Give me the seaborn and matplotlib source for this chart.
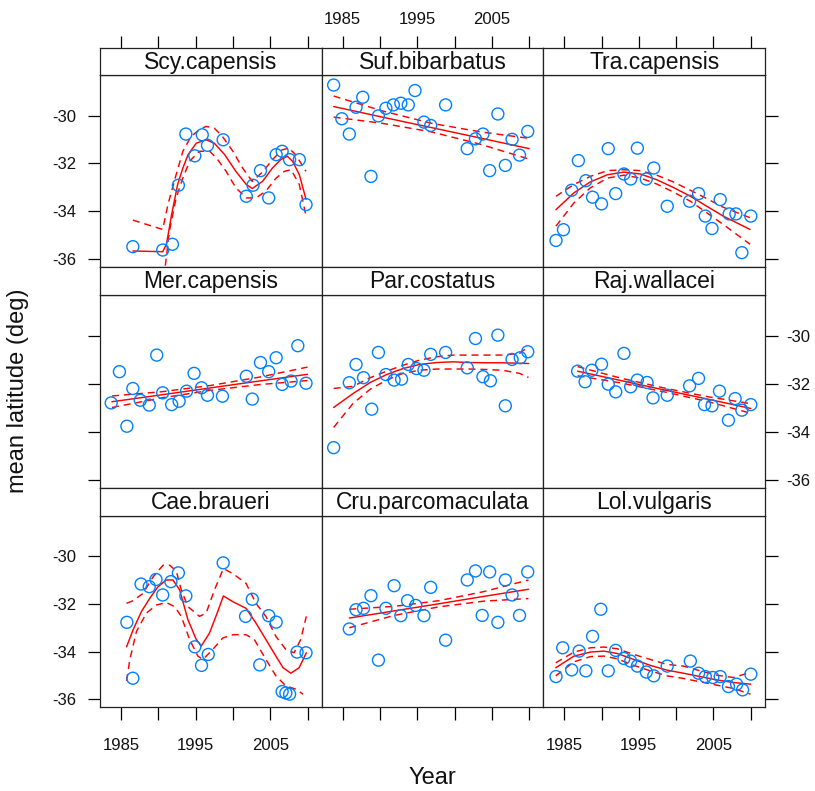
import matplotlib
matplotlib.use("Agg")
import matplotlib.pyplot as plt
import seaborn as sns

# ---------------- data ----------------
species = ["Scy.capensis", "Suf.bibarbatus", "Tra.capensis",
           "Mer.capensis", "Par.costatus", "Raj.wallacei",
           "Cae.braueri", "Cru.parcomaculata", "Lol.vulgaris"]

x_ticks = [1985, 1990, 1995, 2000, 2005, 2010]
x_tick_labels = ["1985", "", "1995", "", "2005", ""]
y_ticks = [-36, -34, -32, -30]
y_tick_labels = ["-36", "-34", "-32", "-30"]

# Scy.capensis
scy_year = [1986.6, 1990.6, 1991.9, 1992.7, 1993.7, 1994.9, 1995.9, 1996.6, 1998.7,
            2001.8, 2002.7, 2003.7, 2004.8, 2005.8, 2006.6, 2007.6, 2008.9, 2009.8]
scy_lat = [-35.48, -35.62, -35.38, -32.91, -30.77, -31.68, -30.80, -31.24, -31.01,
           -33.37, -32.91, -32.30, -33.44, -31.63, -31.49, -31.84, -31.84, -33.72]
scy_fit_x = [1986.6, 1990.6, 1991.1, 1991.8, 1992.6, 1993.3, 1994.0, 1995.1, 1996.4, 1997.5, 1998.9,
             2000.4, 2001.8, 2002.6, 2004.0, 2005.3, 2006.4, 2007.3, 2008.0, 2008.9, 2009.8]
scy_fit = [-35.66, -35.69, -35.38, -34.13, -32.88, -32.19, -31.63, -31.15, -31.01, -31.15, -31.63,
           -32.33, -32.88, -33.05, -32.74, -32.19, -31.84, -31.70, -31.91, -32.47, -33.50]
scy_hi_x = [1986.6, 1990.6, 1991.3, 1992.4, 1993.3, 1994.4, 1995.5, 1996.4, 1997.5, 1998.6,
            2000.0, 2001.3, 2002.6, 2004.0, 2005.3, 2006.6, 2007.5, 2008.4, 2009.8]
scy_hi = [-34.37, -34.76, -33.72, -32.47, -31.49, -30.87, -30.59, -30.45, -30.52, -30.87,
          -31.49, -32.19, -32.75, -32.35, -31.84, -31.43, -31.36, -31.63, -32.33]
scy_lo_x = [1986.6, 1990.6, 1991.0, 1991.5, 1992.4, 1993.3, 1994.2, 1995.5, 1996.9, 1997.8,
            1999.1, 2000.4, 2001.8, 2003.1, 2004.4, 2005.8, 2006.9, 2007.8, 2008.9, 2009.8]
scy_lo = [-37.2, -37.0, -36.15, -34.83, -33.44, -32.61, -31.91, -31.49, -31.49, -31.77,
          -32.33, -33.02, -33.44, -33.44, -33.16, -32.61, -32.33, -32.26, -32.88, -34.20]

# Suf.bibarbatus
suf_year = [1983.8, 1984.9, 1985.9, 1986.8, 1987.7, 1988.8, 1989.8, 1990.8, 1991.8, 1992.8, 1993.8, 1994.7,
            1995.9, 1996.8, 1998.8, 2001.7, 2002.8, 2003.8, 2004.7, 2005.8, 2006.8, 2007.7, 2008.7, 2009.8]
suf_lat = [-28.72, -30.13, -30.77, -29.65, -29.23, -32.54, -30.01, -29.69, -29.55, -29.48, -29.55, -28.95,
           -30.27, -30.41, -29.55, -31.38, -30.97, -30.77, -32.30, -29.93, -32.08, -30.99, -31.65, -30.66]
suf_line_x = [1983.8, 1990.3, 1996.9, 2003.5, 2010.0]
suf_fit = [-29.62, -30.06, -30.50, -30.94, -31.38]
suf_hi = [-29.18, -29.80, -30.32, -30.68, -30.95]
suf_lo = [-30.06, -30.32, -30.68, -31.20, -31.82]

# Tra.capensis
tra_year = [1983.9, 1984.9, 1986.0, 1986.9, 1987.9, 1988.8, 1990.0, 1990.9, 1991.9, 1993.0, 1993.9, 1994.8,
            1996.0, 1997.0, 1998.8, 2001.8, 2003.0, 2003.9, 2004.8, 2005.9, 2007.1, 2008.0, 2008.8, 2010.0]
tra_lat = [-35.22, -34.77, -33.12, -31.88, -32.72, -33.41, -33.69, -31.38, -33.26, -32.44, -32.65, -31.36,
           -32.65, -32.19, -33.79, -33.58, -33.26, -34.20, -34.72, -33.51, -34.11, -34.11, -35.73, -34.20]
tra_line_x = [1983.9, 1986.3, 1988.5, 1990.8, 1993.0, 1995.2, 1997.4, 1999.6, 2001.9, 2004.1, 2006.3, 2009.9]
tra_fit = [-33.93, -33.23, -32.77, -32.47, -32.36, -32.44, -32.68, -33.00, -33.37, -33.79, -34.20, -34.76]
tra_hi = [-33.37, -32.88, -32.54, -32.30, -32.26, -32.30, -32.49, -32.77, -33.12, -33.47, -33.83, -34.27]
tra_lo = [-34.62, -33.65, -33.02, -32.61, -32.49, -32.61, -32.86, -33.19, -33.58, -34.06, -34.55, -35.38]

# Mer.capensis
mer_year = [1983.7, 1984.8, 1985.8, 1986.6, 1987.6, 1988.8, 1989.8, 1990.6, 1991.8, 1992.8, 1993.8, 1994.8,
            1995.8, 1996.6, 1998.6, 2001.8, 2002.6, 2003.7, 2004.8, 2005.8, 2006.6, 2007.8, 2008.7, 2009.8]
mer_lat = [-32.79, -31.49, -33.76, -32.19, -32.68, -32.88, -30.80, -32.37, -32.86, -32.72, -32.30, -31.56,
           -32.16, -32.47, -32.51, -31.68, -32.63, -31.11, -31.49, -30.91, -32.02, -31.88, -30.41, -31.97]
mer_line_x = [1983.8, 1990.3, 1996.9, 2003.5, 2010.0]
mer_fit = [-32.74, -32.46, -32.17, -31.88, -31.60]
mer_hi = [-32.50, -32.33, -32.07, -31.72, -31.30]
mer_lo = [-32.98, -32.59, -32.27, -32.03, -31.86]

# Par.costatus
par_year = [1983.8, 1985.9, 1986.8, 1987.8, 1988.9, 1989.8, 1990.8, 1991.9, 1992.9, 1993.8, 1994.9, 1995.9,
            1996.8, 1998.8, 2001.7, 2002.8, 2003.8, 2004.8, 2005.8, 2006.8, 2007.7, 2008.8, 2009.8]
par_lat = [-34.65, -31.95, -31.19, -31.74, -33.05, -30.69, -31.61, -31.84, -31.80, -31.19, -31.36, -31.43,
           -30.77, -30.69, -31.33, -30.11, -31.70, -31.87, -29.97, -32.91, -30.98, -30.91, -30.66]
par_fit_x = [1983.8, 1986.4, 1988.7, 1990.9, 1993.1, 1995.3, 1997.6, 1999.8, 2002.0, 2004.2, 2006.4, 2009.9]
par_fit = [-32.98, -32.40, -31.94, -31.61, -31.36, -31.19, -31.11, -31.08, -31.11, -31.12, -31.12, -31.15]
par_band_x = [1983.8, 1986.4, 1988.7, 1990.9, 1993.1, 1995.3, 1997.6, 1999.8, 2002.0, 2004.2, 2006.4,
              2008.7, 2009.9]
par_hi = [-32.19, -32.10, -31.74, -31.47, -31.22, -31.01, -30.87, -30.80, -30.80, -30.80, -30.80, -30.73, -30.45]
par_lo = [-33.81, -32.81, -32.22, -31.84, -31.56, -31.43, -31.38, -31.38, -31.38, -31.40, -31.43, -31.56, -31.73]

# Raj.wallacei
raj_year = [1986.8, 1987.8, 1988.7, 1990.0, 1990.9, 1991.9, 1993.0, 1993.9, 1994.8, 1996.1, 1996.9,
            1998.8, 2001.8, 2003.0, 2003.8, 2004.8, 2005.8, 2007.0, 2007.9, 2008.8, 2010.0]
raj_lat = [-31.47, -31.91, -31.43, -31.18, -32.01, -32.33, -30.73, -32.12, -31.84, -31.94, -32.58,
           -32.47, -32.08, -31.77, -32.86, -32.91, -32.30, -33.51, -32.61, -33.09, -32.86]
raj_line_x = [1986.8, 1992.6, 1998.4, 2004.2, 2010.0]
raj_fit = [-31.47, -31.86, -32.25, -32.63, -33.02]
raj_hi = [-31.28, -31.76, -32.17, -32.53, -32.82]
raj_lo = [-31.66, -31.96, -32.33, -32.73, -33.22]

# Cae.braueri
cae_year = [1985.8, 1986.6, 1987.7, 1988.8, 1989.7, 1990.6, 1991.7, 1992.7, 1993.7, 1994.9, 1995.8,
            1996.7, 1998.7, 2001.7, 2002.6, 2003.6, 2004.8, 2005.8, 2006.6, 2007.1, 2007.6, 2008.6, 2009.8]
cae_lat = [-32.77, -35.12, -31.16, -31.27, -30.97, -31.62, -31.06, -30.69, -31.66, -33.80, -34.58,
           -34.12, -30.27, -32.52, -31.80, -34.56, -32.49, -32.76, -35.68, -35.74, -35.79, -34.02, -34.05]
cae_fit_x = [1985.76, 1986.64, 1987.76, 1988.87, 1989.98, 1991.09, 1991.98, 1992.87, 1993.98, 1995.09,
             1995.76, 1996.87, 1997.98, 1998.73, 1999.98, 2001.76, 2003.09, 2004.42, 2005.76, 2006.73,
             2007.76, 2008.87, 2009.84]
cae_fit = [-33.80, -33.08, -32.31, -31.76, -31.27, -30.99, -30.99, -31.41, -32.66, -33.49,
           -33.77, -33.22, -32.31, -31.66, -31.90, -32.18, -32.80, -33.49, -34.19, -34.68,
           -34.91, -34.68, -34.05]
cae_hi_x = [1985.76, 1986.64, 1987.98, 1989.31, 1990.64, 1991.53, 1992.42, 1993.09, 1993.98, 1995.53,
            1996.42, 1997.53, 1998.73, 1999.98, 2001.76, 2003.09, 2004.42, 2005.76, 2007.09, 2008.2,
            2009.09, 2009.84]
cae_hi = [-31.97, -31.86, -31.55, -30.86, -30.37, -30.37, -30.61, -31.41, -32.11, -32.52,
          -32.38, -31.41, -30.51, -30.72, -31.13, -31.97, -32.52, -33.36, -33.91, -34.05,
          -33.49, -32.52]
cae_lo_x = [1985.76, 1986.2, 1987.09, 1988.42, 1989.76, 1991.09, 1992.2, 1993.09, 1994.2, 1995.31,
            1995.98, 1997.31, 1998.64, 1999.98, 2001.76, 2002.87, 2004.42, 2005.76, 2007.09, 2008.42,
            2009.4]
cae_lo = [-35.23, -34.33, -33.15, -32.38, -32.04, -31.94, -32.11, -32.52, -33.49, -34.19,
          -34.33, -33.91, -33.43, -33.29, -33.29, -33.49, -34.33, -35.02, -35.44, -35.58, -35.79]

# Cru.parcomaculata
cru_year = [1985.9, 1986.8, 1987.8, 1988.8, 1989.8, 1990.8, 1991.9, 1992.8, 1993.7, 1994.8, 1995.9,
            1996.8, 1998.8, 2001.7, 2002.8, 2003.7, 2004.7, 2005.8, 2006.8, 2007.7, 2008.7, 2009.8]
cru_lat = [-33.05, -32.24, -32.18, -31.65, -34.36, -32.18, -31.23, -32.49, -31.86, -32.06, -32.49,
           -31.30, -33.52, -30.99, -30.61, -32.48, -30.65, -32.77, -30.99, -31.62, -32.48, -30.65]
cru_line_x = [1985.9, 1991.9, 1997.9, 2003.9, 2009.9]
cru_fit = [-32.59, -32.29, -31.99, -31.68, -31.38]
cru_hi = [-32.22, -32.10, -31.86, -31.48, -30.99]
cru_lo = [-33.00, -32.48, -32.12, -31.88, -31.77]

# Lol.vulgaris
lol_year = [1983.9, 1984.8, 1986.0, 1987.0, 1987.9, 1988.8, 1989.9, 1990.9, 1991.9, 1993.0, 1993.9, 1994.8,
            1996.0, 1997.0, 1998.8, 2001.9, 2003.0, 2003.9, 2004.9, 2005.9, 2007.0, 2008.1, 2008.9, 2010.0]
lol_lat = [-35.05, -33.84, -34.77, -33.98, -34.81, -33.36, -32.22, -34.81, -33.95, -34.29, -34.40, -34.61,
           -34.86, -35.02, -34.61, -34.40, -34.91, -35.05, -35.09, -35.05, -35.47, -35.37, -35.61, -34.95]
lol_line_x = [1983.87, 1986.31, 1988.53, 1990.31, 1992.09, 1994.31, 1996.53, 1998.76, 2000.98, 2003.2,
              2005.42, 2007.64, 2009.96]
lol_fit = [-34.68, -34.19, -34.02, -33.98, -34.08, -34.33, -34.58, -34.78, -34.91, -35.05, -35.19, -35.30, -35.37]
lol_hi = [-34.47, -34.02, -33.84, -33.81, -33.88, -34.12, -34.33, -34.54, -34.61, -34.81, -34.99, -35.09, -34.88]
lol_lo = [-35.02, -34.43, -34.21, -34.19, -34.30, -34.58, -34.81, -35.02, -35.13, -35.27, -35.41, -35.55, -35.79]

# ---------------- assemble panels ----------------
points = [(scy_year, scy_lat), (suf_year, suf_lat), (tra_year, tra_lat),
          (mer_year, mer_lat), (par_year, par_lat), (raj_year, raj_lat),
          (cae_year, cae_lat), (cru_year, cru_lat), (lol_year, lol_lat)]
curves = [
    [(scy_fit_x, scy_fit, True), (scy_hi_x, scy_hi, False), (scy_lo_x, scy_lo, False)],
    [(suf_line_x, suf_fit, True), (suf_line_x, suf_hi, False), (suf_line_x, suf_lo, False)],
    [(tra_line_x, tra_fit, True), (tra_line_x, tra_hi, False), (tra_line_x, tra_lo, False)],
    [(mer_line_x, mer_fit, True), (mer_line_x, mer_hi, False), (mer_line_x, mer_lo, False)],
    [(par_fit_x, par_fit, True), (par_band_x, par_hi, False), (par_band_x, par_lo, False)],
    [(raj_line_x, raj_fit, True), (raj_line_x, raj_hi, False), (raj_line_x, raj_lo, False)],
    [(cae_fit_x, cae_fit, True), (cae_hi_x, cae_hi, False), (cae_lo_x, cae_lo, False)],
    [(cru_line_x, cru_fit, True), (cru_line_x, cru_hi, False), (cru_line_x, cru_lo, False)],
    [(lol_line_x, lol_fit, True), (lol_line_x, lol_hi, False), (lol_line_x, lol_lo, False)],
]

# ---------------- style ----------------
sns.set_theme(style="white")
plt.rcParams["font.family"] = ["Liberation Sans", "DejaVu Sans"]

W, H = 815, 791
fig = plt.figure(figsize=(W / 100, H / 100), dpi=100)
fig.patch.set_facecolor("white")

col_left = [100, 321.7, 543.3]
col_w = 221.7
strip_top = [48, 267, 488]
panel_top = [75, 295, 516]
panel_bot = [267, 488, 707]
XLIM = (1982.2, 2011.9)
YLIM = (-36.33, -28.3)
PT_COL = "#0080ff"
LINE_COL = "red"
FRAME = "#222222"


def rect(x0, y0, x1, y1):
    return [x0 / W, 1 - y1 / H, (x1 - x0) / W, (y1 - y0) / H]


for i, name in enumerate(species):
    r, c = divmod(i, 3)
    x0 = col_left[c]
    ax = fig.add_axes(rect(x0, panel_top[r], x0 + col_w, panel_bot[r]))
    sax = fig.add_axes(rect(x0, strip_top[r], x0 + col_w, panel_top[r]))

    # lines
    for lx, ly, solid in curves[i]:
        sns.lineplot(x=lx, y=ly, ax=ax, color=LINE_COL, linewidth=1.05,
                     estimator=None, sort=False,
                     linestyle="-" if solid else (0, (4.8, 3.4)))
    # points
    yr, lat = points[i]
    sns.scatterplot(x=yr, y=lat, ax=ax, marker="o", s=74, color=PT_COL,
                    facecolors="none", edgecolor=PT_COL, linewidth=1.0, zorder=3)

    ax.set_xlim(*XLIM)
    ax.set_ylim(*YLIM)
    ax.set_xlabel("")
    ax.set_ylabel("")
    ax.set_facecolor("white")
    for sp in ax.spines.values():
        sp.set_color(FRAME)
        sp.set_linewidth(0.9)
        sp.set_visible(True)
    ax.set_xticks(x_ticks)
    ax.set_xticklabels(x_tick_labels)
    ax.set_yticks(y_ticks)
    ax.set_yticklabels(y_tick_labels)
    ax.tick_params(axis="both", direction="out", length=9, width=0.9, colors="black",
                   labelsize=12, labelcolor="#111111")
    ax.tick_params(axis="x", top=False, bottom=(r == 2), labeltop=False,
                   labelbottom=(r == 2 and c != 1), pad=13)
    ax.tick_params(axis="y", left=(c == 0), right=(c == 2),
                   labelleft=(c == 0 and r != 1), labelright=(c == 2 and r == 1))
    ax.tick_params(axis="y", which="major", pad=8)
    if c == 2 and r == 1:
        ax.tick_params(axis="y", pad=6)

    # strip
    sax.set_xlim(*XLIM)
    sax.set_ylim(0, 1)
    sax.set_facecolor("white")
    for sp in sax.spines.values():
        sp.set_color(FRAME)
        sp.set_linewidth(0.9)
        sp.set_visible(True)
    sax.set_yticks([])
    if r == 0:
        sax.set_xticks(x_ticks)
        sax.set_xticklabels(x_tick_labels)
        sax.tick_params(axis="x", direction="out", length=9, width=0.9, colors="black",
                        labelsize=12, labelcolor="#111111", top=True, bottom=False,
                        labeltop=(c == 1), labelbottom=False, pad=6)
    else:
        sax.set_xticks([])
    sax.text(0.5, 0.47, name, transform=sax.transAxes, ha="center", va="center",
             fontsize=16.5, color="#111111")

fig.text(18 / W, 1 - 391 / H, "mean latitude (deg)", rotation=90, ha="center",
         va="center", fontsize=17, color="#111111")
fig.text(432.5 / W, 1 - 778 / H, "Year", ha="center", va="center",
         fontsize=17, color="#111111")

fig.savefig("out.png", dpi=100, facecolor="white")
